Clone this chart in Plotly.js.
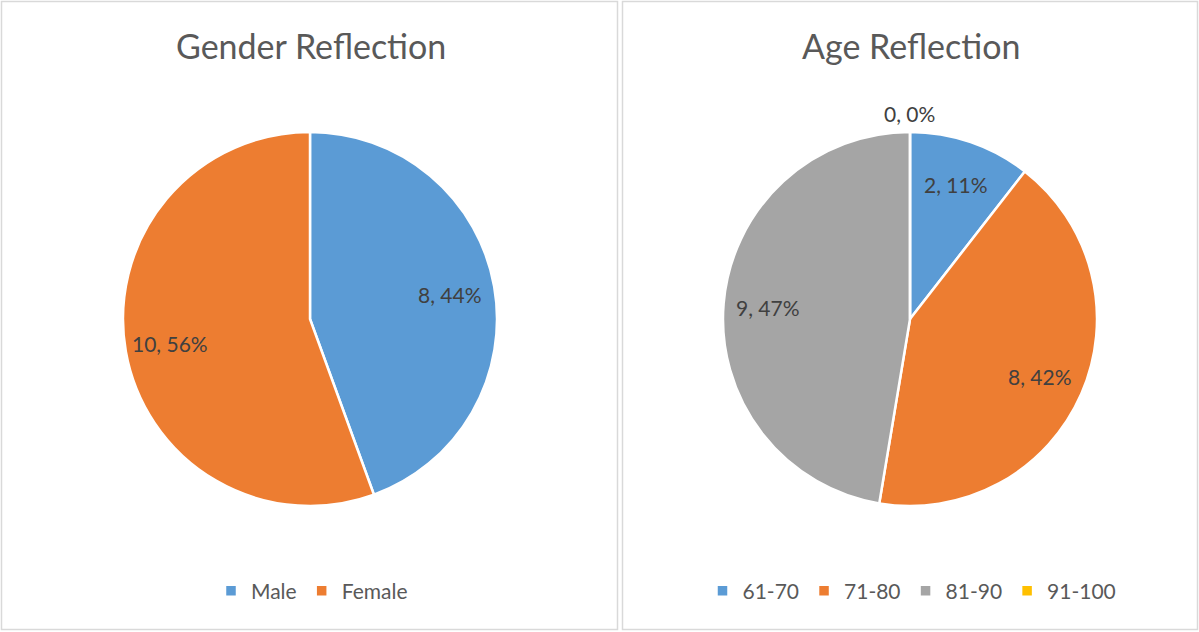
<!DOCTYPE html>
<html>
<head>
<meta charset="utf-8">
<script src="https://cdn.plot.ly/plotly-3.0.1.min.js"></script>
<style>html,body{margin:0;padding:0;background:#fff;}#chart{width:1199px;height:632px;}</style>
</head>
<body>
<div id="chart"></div>
<script>
// ---- data ----
const genderLabels = ["Male", "Female"];
const genderValues = [8, 10];
const ageLabels = ["61-70", "71-80", "81-90", "91-100"];
const ageValues = [2, 8, 9, 0];
const genderTitle = "Gender Reflection";
const ageTitle = "Age Reflection";
const genderColors = ["#5B9BD5", "#ED7D31"];
const ageColors = ["#5B9BD5", "#ED7D31", "#A5A5A5", "#FFC000"];

// ---- layout geometry ----
const W = 1199, H = 632;
const FONT = "Lato, 'Open Sans', sans-serif";
const leftDom = {x: [123 / W, 497 / W], y: [1 - 506 / H, 1 - 132 / H]};
const rightDom = {x: [723 / W, 1097 / W], y: [1 - 506 / H, 1 - 132 / H]};

function sliceLabels(values, dom) {
  const total = values.reduce((a, b) => a + b, 0);
  const cx = (dom.x[0] + dom.x[1]) / 2 * W;
  const cy = (1 - (dom.y[0] + dom.y[1]) / 2) * H;
  const R = Math.min((dom.x[1] - dom.x[0]) * W, (dom.y[1] - dom.y[0]) * H) / 2;
  let cum = 0;
  const anns = [];
  values.forEach(v => {
    const mid = (cum + v / 2) / total * 2 * Math.PI;
    cum += v;
    const frac = v === 0 ? 1.1 : 0.76;
    const px = cx + Math.sin(mid) * R * frac;
    const py = cy - Math.cos(mid) * R * frac;
    const pct = Math.round(v / total * 100);
    anns.push({
      x: px / W, y: 1 - py / H, xref: "paper", yref: "paper",
      text: v + ", " + pct + "%", showarrow: false,
      xanchor: "center", yanchor: "middle",
      font: {family: FONT, size: 21, color: "#404040"}
    });
  });
  return anns;
}

const traces = [
  {
    type: "pie", labels: genderLabels, values: genderValues,
    domain: leftDom, sort: false, direction: "clockwise", rotation: 0,
    marker: {colors: genderColors, line: {color: "#ffffff", width: 2.5}},
    textinfo: "none", hoverinfo: "label+value+percent",
    legend: "legend"
  },
  {
    type: "pie", labels: ageLabels, values: ageValues,
    domain: rightDom, sort: false, direction: "clockwise", rotation: 0,
    marker: {colors: ageColors, line: {color: "#ffffff", width: 2.5}},
    textinfo: "none", hoverinfo: "label+value+percent",
    legend: "legend2"
  }
];

const legendBase = {
  orientation: "h", xanchor: "center", yanchor: "middle",
  y: 1 - 591 / H, font: {family: FONT, size: 21, color: "#595959"},
  bgcolor: "rgba(0,0,0,0)", traceorder: "normal"
};

const layout = {
  width: W, height: H,
  margin: {l: 0, r: 0, t: 0, b: 0},
  paper_bgcolor: "#ffffff",
  font: {family: FONT},
  legend: Object.assign({}, legendBase, {x: 312 / W}),
  legend2: Object.assign({}, legendBase, {x: 912 / W}),
  shapes: [
    {type: "rect", xref: "paper", yref: "paper", x0: 1.5 / W, x1: 617.5 / W, y0: 1 - 629.5 / H, y1: 1 - 1.5 / H,
     line: {color: "#D9D9D9", width: 1.5}},
    {type: "rect", xref: "paper", yref: "paper", x0: 622.5 / W, x1: 1197.5 / W, y0: 1 - 629.5 / H, y1: 1 - 1.5 / H,
     line: {color: "#D9D9D9", width: 1.5}}
  ],
  annotations: [
    {x: 311 / W, y: 1 - 45 / H, xref: "paper", yref: "paper", text: genderTitle, showarrow: false,
     xanchor: "center", yanchor: "middle", font: {family: FONT, size: 34, color: "#595959"}},
    {x: 911 / W, y: 1 - 45 / H, xref: "paper", yref: "paper", text: ageTitle, showarrow: false,
     xanchor: "center", yanchor: "middle", font: {family: FONT, size: 34, color: "#595959"}}
  ].concat(sliceLabels(genderValues, leftDom), sliceLabels(ageValues, rightDom))
};

Plotly.newPlot("chart", traces, layout, {displayModeBar: false, staticPlot: true});
</script>
</body>
</html>
